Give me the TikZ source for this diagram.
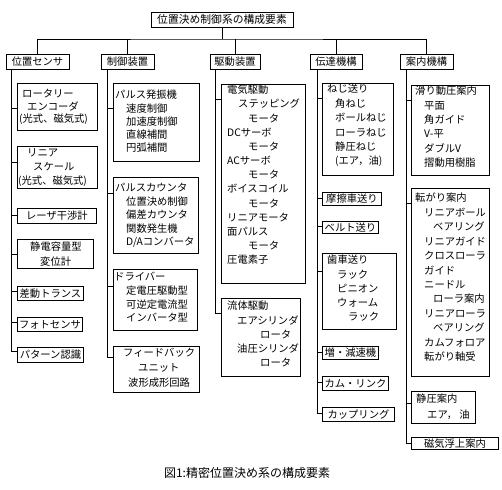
\documentclass[tikz,border=0pt]{standalone}
\usepackage{fontspec}
\setmainfont{Noto Sans CJK JP}
\newcommand\bodyfs{\fontsize{10.3}{12}\selectfont}
\tikzset{
  bx/.style={draw, line width=0.9pt, inner sep=0pt, anchor=north west},
  sbx/.style={bx, font=\bodyfs, text height=0.88em, text depth=0.12em},
  cat/.style={draw, line width=0.9pt, inner sep=0pt, font=\bodyfs, minimum height=15pt, text height=0.88em, text depth=0.12em},
  lbl/.style={inner sep=0pt, anchor=west, font=\bodyfs, text height=0.88em, text depth=0.12em},
  conn/.style={line width=0.8pt},
}
% box: name, x, ytop, w, h
\newcommand\gbox[5]{\node[bx, minimum width=#4pt, minimum height=#5pt] (#1) at (#2,#3) {};}
% single-line box: name, x, ytop, w, h, text
\newcommand\onebox[6]{\node[sbx, minimum width=#4pt, minimum height=#5pt] (#1) at (#2,#3) {#6};}
% text lines: name, x, y0, step, list dx/text
\newcommand\glines[5]{\foreach \dx/\txt [count=\cnt] in {#5}{\node[lbl] (#1-\cnt) at ({#2+\dx},{#3+(\cnt-1)*#4}) {\txt};}}
% branch: name, trunk x, y
\newcommand\gbr[3]{\coordinate (#1-j) at (#2,#3); \draw[conn] (#1-j) -- (#1-j -| #1.west);}
\begin{document}
\begin{tikzpicture}[x=1pt,y=-1pt]
\useasboundingbox (0,0) rectangle (502,489);
% title and categories
\node[cat, minimum width=142pt, font=\fontsize{10.8}{12}\selectfont] (title) at (222,19.5) {位置決め制御系の構成要素};
\node[cat, minimum width=63pt] (c1) at (37.5,61.5) {位置センサ};
\node[cat, minimum width=53pt] (c2) at (127.5,61.5) {制御装置};
\node[cat, minimum width=50pt] (c3) at (235,61.5) {駆動装置};
\node[cat, minimum width=52pt] (c4) at (336,61.5) {伝達機構};
\node[cat, minimum width=53pt] (c5) at (426.5,61.5) {案内機構};
\coordinate (bar) at (222,39);
\draw[conn] (title.south) -- (bar);
\draw[conn] (c1.north) |- (bar) -| (c5.north);
\foreach \c in {c2,c3,c4} \draw[conn] (\c.north) -- (\c.north |- bar);

% ---- column 1
\gbox{rot}{17}{83}{80}{47}
\glines{rot}{17}{94}{12.5}{5/ロータリー, 10/エンコーダ, 2/{(光式、磁気式)}}
\gbox{lin}{17}{146}{80}{42}
\glines{lin}{17}{153}{14}{10/リニア, 16/スケール, 1/{(光式、磁気式)}}
\onebox{laser}{17}{208}{79}{15}{レーザ干渉計}
\gbox{stat}{17}{239}{76}{29}
\glines{stat}{17}{247}{15}{13/静電容量型, 23/変位計}
\onebox{diff}{17}{286}{66}{14}{差動トランス}
\onebox{photo}{17}{317}{65}{14}{フォトセンサ}
\onebox{pat}{17}{347}{66}{15}{パターン認識}
\gbr{rot}{11}{108}
\gbr{lin}{11}{162}
\gbr{laser}{11}{215}
\gbr{stat}{11}{254}
\gbr{diff}{11}{291}
\gbr{photo}{11}{322}
\gbr{pat}{11}{351}
\draw[conn] (c1.south -| pat-j) -- (pat-j);

% ---- column 2
\gbox{pulse}{113}{83}{86}{78}
\glines{pulse}{113}{95}{13.25}{2/パルス発振機, 13/速度制御, 13/加速度制御, 13/直線補間, 13/円弧補間}
\gbox{cnt}{113}{177}{85}{76}
\glines{cnt}{113}{188}{13.5}{2/パルスカウンタ, 13/位置決め制御, 13/偏差カウンタ, 13/関数発生機, 13/{D/Aコンバータ}}
\gbox{drv}{113}{269}{84}{61}
\glines{drv}{113}{277}{13.7}{1/ドライバー, 13/定電圧駆動型, 13/可逆定電流型, 13/インバータ型}
\gbox{fb}{113}{346}{86}{46}
\glines{fb}{113}{353}{15}{10/フィードバック, 25/ユニット, 15/波形成形回路}
\gbr{pulse}{107}{108}
\gbr{cnt}{107}{193}
\gbr{drv}{107}{286}
\gbr{fb}{107}{357}
\draw[conn] (c2.south -| fb-j) -- (fb-j);

% ---- column 3
\gbox{elec}{221}{84}{84}{199}
\glines{elec}{221}{90}{14.17}{6/電気駆動, 17/ステッピング, 27/モータ, 6/DCサーボ, 27/モータ, 6/ACサーボ, 27/モータ, 6/ボイスコイル, 27/モータ, 6/リニアモータ, 6/面パルス, 27/モータ, 6/圧電素子}
\gbox{fluid}{221}{298}{79}{78}
\glines{fluid}{221}{306}{14.25}{6/流体駆動, 16/エアシリンダ, 39/ロータ, 16/油圧シリンダ, 39/ロータ}
\gbr{elec}{215}{99}
\gbr{fluid}{215}{313}
\draw[conn] (c3.south -| fluid-j) -- (fluid-j);

% ---- column 4
\gbox{screw}{322}{83}{71}{92}
\glines{screw}{322}{89}{14.4}{5/ねじ送り, 13/角ねじ, 13/ボールねじ, 13/ローラねじ, 13/静圧ねじ, 13/{(エア，油)}}
\onebox{fric}{322}{192}{59}{13}{摩擦車送り}
\onebox{belt}{322}{221}{56}{12}{ベルト送り}
\gbox{gear}{322}{253}{74}{76}
\glines{gear}{322}{260}{14.25}{5/歯車送り, 15/ラック, 15/ピニオン, 15/ウォーム, 26/ラック}
\onebox{red}{322}{346}{56}{13}{増・減速機}
\onebox{cam}{322}{376}{66}{14}{カム・リンク}
\onebox{coup}{322}{407}{72}{14}{カップリング}
\gbr{screw}{317}{98}
\gbr{fric}{317}{198}
\gbr{belt}{317}{226}
\gbr{gear}{317}{271}
\gbr{red}{317}{352}
\gbr{cam}{317}{382}
\gbr{coup}{317}{413}
\draw[conn] (c4.south -| coup-j) -- (coup-j);

% ---- column 5
\gbox{slide}{411}{85}{78}{90}
\glines{slide}{411}{91}{14.4}{4/滑り動圧案内, 13/平面, 13/角ガイド, 13/V-平, 13/ダブルV, 13/摺動用樹脂}
\gbox{roll}{411}{188}{78}{188}
\glines{roll}{411}{198}{14.45}{4/転がり案内, 13/リニアボール, 22/ベアリング, 13/リニアガイド, 13/クロスローラ, 13/ガイド, 13/ニードル, 22/ローラ案内, 13/リニアローラ, 22/ベアリング, 13/カムフォロア, 13/転がり軸受}
\gbox{sgd}{411}{391}{64}{32}
\glines{sgd}{411}{399}{16}{5/静圧案内, 16/{エア， 油}}
\onebox{mag}{411}{437}{87}{12}{磁気浮上案内}
\gbr{slide}{406}{100}
\gbr{roll}{406}{203}
\gbr{sgd}{406}{403}
\gbr{mag}{406}{443}
\draw[conn] (c5.south -| mag-j) -- (mag-j);

% caption
\node[font=\fontsize{12}{14}\selectfont, inner sep=0pt] (cap) at (247,473) {図1:精密位置決め系の構成要素};
\end{tikzpicture}
\end{document}
